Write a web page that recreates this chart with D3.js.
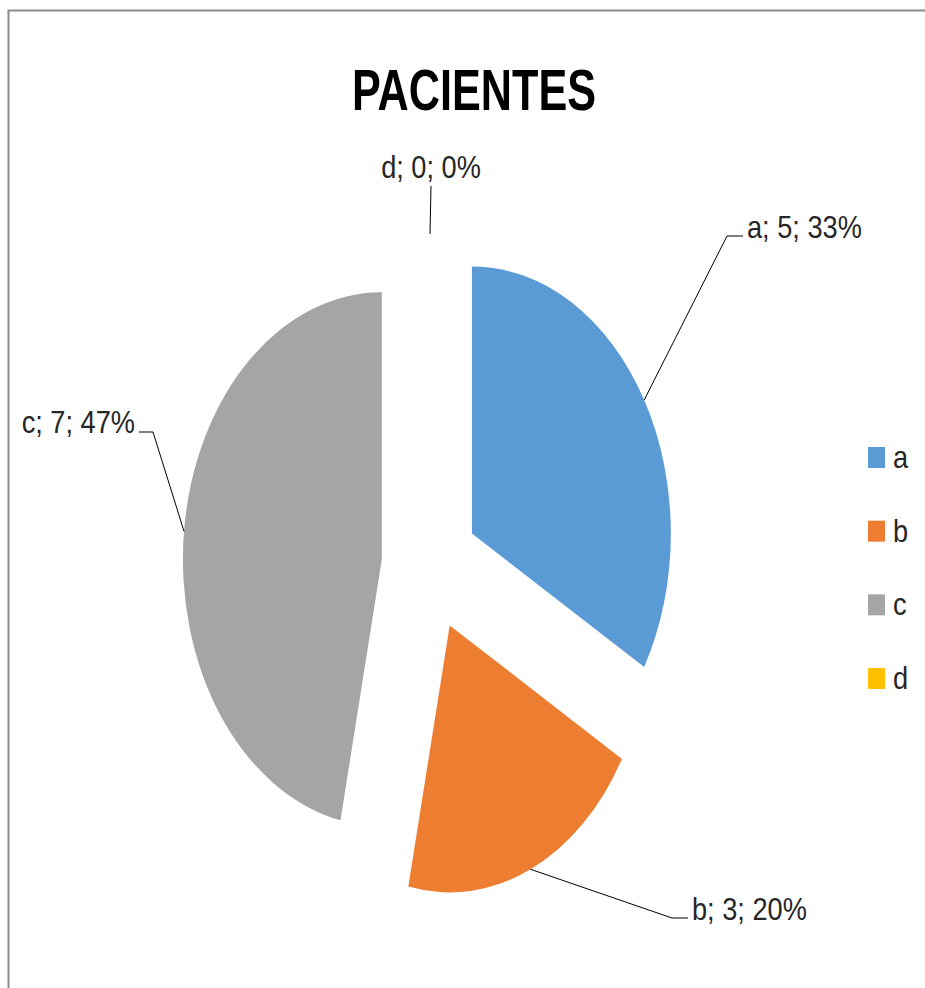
<!DOCTYPE html>
<html>
<head>
<meta charset="utf-8">
<script src="https://cdn.jsdelivr.net/npm/d3@7"></script>
<style>
  body { margin: 0; background: #fff; }
  text { font-family: "Liberation Sans", Arial, sans-serif; fill: #000; }
</style>
</head>
<body>
<div id="chart"></div>
<script>
// data
var categories = ["a", "b", "c", "d"];
var values = [5, 3, 7, 0];
var colors = ["#5B9BD5", "#ED7D31", "#A5A5A5", "#FFC000"];
var title = "PACIENTES";

var width = 925, height = 988;
var cx = 430, cy = 566;       // pie centre
var R = 267;                  // radius (vertical)
var sx = 0.745;               // horizontal squash of the picture
var explode = 65;

var svg = d3.select("#chart")
  .append("svg")
    .attr("width", width)
    .attr("height", height);

// frame (runs off the right and bottom of the picture)
svg.append("path")
  .attr("d", "M8.5,1100 V10.5 H1100")
  .attr("fill", "none")
  .attr("stroke", "#8c8c8c")
  .attr("stroke-width", 2);

// title
svg.append("text")
  .attr("transform", "translate(474,110) scale(0.745,1)")
  .attr("text-anchor", "middle")
  .style("font-size", "58px")
  .style("font-weight", "bold")
  .text(title);

var total = d3.sum(values);
var pie = d3.pie().sort(null).value(function(d) { return d; });
var arcs = pie(values);
var arc = d3.arc().innerRadius(0).outerRadius(R);

var g = svg.append("g")
  .attr("transform", "translate(" + cx + "," + cy + ") scale(" + sx + ",1)");

function mid(d) { return (d.startAngle + d.endAngle) / 2; }

g.selectAll("path")
  .data(arcs)
  .enter().append("path")
    .attr("d", arc)
    .attr("fill", function(d, i) { return colors[i]; })
    .attr("transform", function(d) {
      var m = mid(d);
      return "translate(" + (Math.sin(m) * explode) + "," + (-Math.cos(m) * explode) + ")";
    });

// point on the outer edge at the slice's mid angle, in screen space
function edgePoint(d) {
  var m = mid(d);
  return [cx + sx * Math.sin(m) * (R + explode), cy - Math.cos(m) * (R + explode)];
}

// data labels, placed the way the spreadsheet did it
var labelLayout = {
  a: { elbow: [727, 236], end: [743, 236], tx: 747, ty: 238, anchor: "start" },
  b: { elbow: [672, 918], end: [688, 918], tx: 692, ty: 920, anchor: "start" },
  c: { elbow: [153, 432], end: [139, 432], tx: 135, ty: 433, anchor: "end" },
  d: { elbow: null, end: [431, 186], tx: 431, ty: 178, anchor: "middle" }
};

arcs.forEach(function(d, i) {
  var key = categories[i];
  var L = labelLayout[key];
  var p = edgePoint(d);
  var pts = [p];
  if (L.elbow) pts.push(L.elbow);
  pts.push(L.end);
  svg.append("path")
    .attr("d", d3.line()(pts))
    .attr("fill", "none")
    .attr("stroke", "#000")
    .attr("stroke-width", 1);
  var pct = Math.round(values[i] / total * 100);
  svg.append("text")
    .attr("transform", "translate(" + L.tx + "," + L.ty + ") scale(0.85,1)")
    .attr("text-anchor", L.anchor)
    .style("font-size", "32px")
    .style("fill", "#262626")
    .text(key + "; " + values[i] + "; " + pct + "%");
});

// legend
var legendY = d3.scalePoint().domain(categories).range([457, 678]);
var leg = svg.append("g");
categories.forEach(function(c, i) {
  leg.append("rect")
    .attr("x", 868).attr("y", legendY(c) - 10)
    .attr("width", 17).attr("height", 21)
    .attr("fill", colors[i]);
  leg.append("text")
    .attr("transform", "translate(893," + (legendY(c) + 11) + ") scale(0.85,1)")
    .style("font-size", "32px")
    .style("fill", "#262626")
    .text(c);
});
</script>
</body>
</html>
